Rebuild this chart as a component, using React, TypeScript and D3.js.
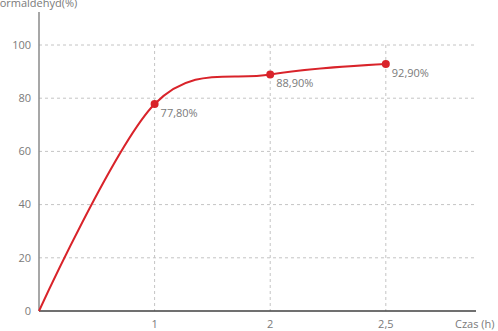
import React from "react";
import * as d3 from "d3";

// Conversion over time: position index on the x axis, measured value (%)
const xPositions = [0, 1, 2, 3];
const conversion = [0, 77.8, 88.9, 92.9];
const pointLabels = ["", "77,80%", "88,90%", "92,90%"];
const xTickPositions = [1, 2, 3];
const xTickLabels = ["1", "2", "2,5"];
const yTicks = [0, 20, 40, 60, 80, 100];

const W = 498;
const H = 331;
const FONT = "'Open Sans', 'Liberation Sans', sans-serif";
const X_MAX = 3.78;

export default function App() {
  const x = d3.scaleLinear().domain([0, X_MAX]).range([39, 476]);
  const y = d3.scaleLinear().domain([0, 100]).range([311, 45]);

  const line = d3
    .line<number>()
    .x((_, i) => x(xPositions[i]))
    .y((d) => y(d))
    .curve(d3.curveCardinal.tension(0));

  const red = "#D9232A";
  const grid = "#c4c4c4";
  const textGray = "#7a7a7a";

  return (
    <svg
      width={W}
      height={H}
      style={{ position: "absolute", left: 0, top: 0, background: "#fff" }}
    >
      {/* horizontal grid */}
      {yTicks
        .filter((t) => t > 0)
        .map((t) => (
          <line
            key={"hg" + t}
            x1={x(0)}
            x2={x(X_MAX)}
            y1={y(t)}
            y2={y(t)}
            stroke={grid}
            strokeWidth={1}
            strokeDasharray="3,3"
          />
        ))}
      {/* vertical grid */}
      {xTickPositions.map((p) => (
        <line
          key={"vg" + p}
          x1={x(p)}
          x2={x(p)}
          y1={y(100)}
          y2={y(0)}
          stroke={grid}
          strokeWidth={1}
          strokeDasharray="3,3"
        />
      ))}
      {/* axes */}
      <line x1={x(0)} x2={x(0)} y1={12} y2={y(0)} stroke="#8a8a8a" strokeWidth={1.5} />
      <line x1={x(0)} x2={x(X_MAX)} y1={y(0)} y2={y(0)} stroke="#404040" strokeWidth={1.5} />

      {/* y tick labels */}
      {yTicks.map((t) => (
        <text
          key={"yl" + t}
          x={31}
          y={y(t)}
          dy="0.35em"
          textAnchor="end"
          fontFamily={FONT}
          fontSize={11}
          fill={textGray}
        >
          {t}
        </text>
      ))}
      {/* x tick labels */}
      {xTickPositions.map((p, i) => (
        <text
          key={"xl" + p}
          x={x(p)}
          y={324}
          dy="0.35em"
          textAnchor="middle"
          fontFamily={FONT}
          fontSize={11}
          fill={textGray}
        >
          {xTickLabels[i]}
        </text>
      ))}
      <text x={455} y={324} dy="0.35em" fontFamily={FONT} fontSize={11} fill={textGray}>
        Czas (h)
      </text>
      <text x={-6} y={7} fontFamily={FONT} fontSize={11} fill={textGray}>
        Formaldehyd(%)
      </text>

      {/* series */}
      <path d={line(conversion) || ""} fill="none" stroke={red} strokeWidth={2} />
      {conversion.map((v, i) =>
        i === 0 ? null : (
          <g key={"pt" + i}>
            <circle cx={x(xPositions[i])} cy={y(v)} r={4} fill={red} />
            <text
              x={x(xPositions[i]) + 6}
              y={y(v) + 9}
              dy="0.35em"
              fontFamily={FONT}
              fontSize={11}
              fill={textGray}
            >
              {pointLabels[i]}
            </text>
          </g>
        )
      )}
    </svg>
  );
}
